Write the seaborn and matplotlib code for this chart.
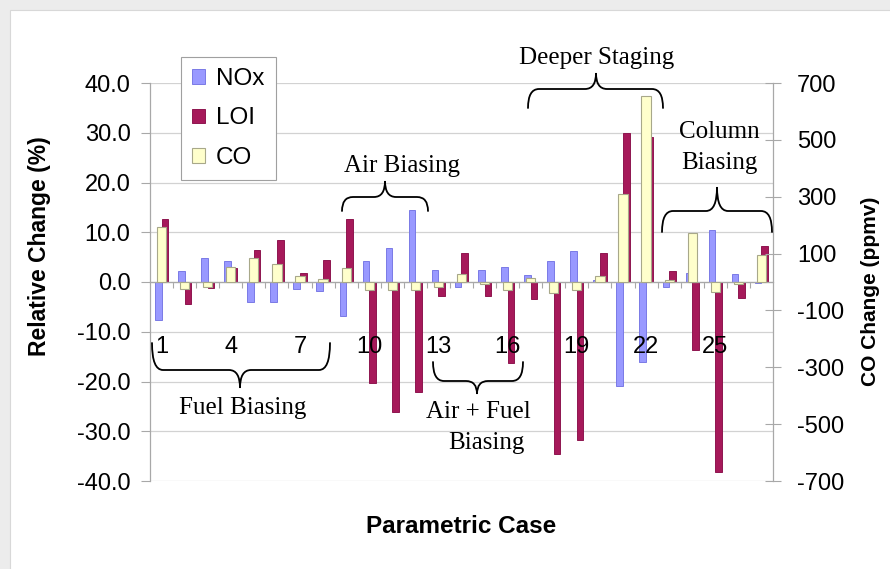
import matplotlib
matplotlib.use("Agg")
import numpy as np
import pandas as pd
import matplotlib.pyplot as plt
import seaborn as sns
from matplotlib.path import Path
from matplotlib.patches import PathPatch, Patch, Rectangle
from matplotlib.transforms import Affine2D

# ---------------- data ----------------
cases = list(range(1, 28))
case_labels = [str(c) for c in cases]
nox = [-7.6, 2.2, 4.9, 4.2, -4.1, -4.1, -1.5, -1.8, -6.8, 4.2, 6.9, 14.4, 2.5, -1.1,
       2.5, 3.1, 1.5, 4.2, 6.2, 0.5, -20.9, -16.0, -1.1, 1.9, 10.5, 1.7, -0.3]
loi = [12.7, -4.4, -1.2, 2.9, 6.5, 8.5, 1.9, 4.5, 12.7, -20.3, -26.1, -22.1, -2.8, 5.9,
       -2.8, -16.3, -3.4, -34.5, -31.8, 5.9, 29.9, 29.1, 2.2, -13.7, -38.1, -3.3, 7.2]
co_ppmv = [195, -26, -18, 54, 86, 62, 21, 9, 51, -29, -29, -29, -17, 29,
           -8, -29, 14, -37, -29, 21, 311, 654, 7, 171, -34, -6, 95]
shown_case_labels = ["1", "4", "7", "10", "13", "16", "19", "22", "25"]
left_ticks = [-40, -30, -20, -10, 0, 10, 20, 30, 40]
right_ticks = [-700, -500, -300, -100, 100, 300, 500, 700]

NOX_C, NOX_E = "#9999ff", "#7a7ae6"
LOI_C, LOI_E = "#a6195a", "#8e1650"
CO_C, CO_E = "#ffffcc", "#a8a88a"
GRID = "#d2d2d2"
AXC = "#a8a8a8"

SANS = ["Liberation Sans", "DejaVu Sans"]
SERIF = ["Liberation Serif", "DejaVu Serif"]
plt.rcParams["font.family"] = SANS

W, H = 890, 569
fig = plt.figure(figsize=(W / 100, H / 100), dpi=100)
PX = Affine2D().scale(1 / W, -1 / H).translate(0, 1) + fig.transFigure

fig.patch.set_facecolor("#ececec")
fig.add_artist(Rectangle((10, 10), 900, 600, transform=PX, facecolor="white",
                         edgecolor="#d8d8d8", lw=0.8, zorder=-10))

ax = fig.add_axes([150 / W, 1 - 481 / H, 623 / W, 398 / H])
ax.patch.set_alpha(0)
ax2 = ax.twinx()

df = pd.DataFrame({
    "case": case_labels * 2,
    "series": ["NOx"] * len(cases) + ["LOI"] * len(cases),
    "value": nox + loi,
})
sns.barplot(data=df, x="case", y="value", hue="series", order=case_labels,
            hue_order=["NOx", "LOI"], palette={"NOx": NOX_C, "LOI": LOI_C},
            width=0.572, gap=0, errorbar=None, saturation=1, legend=False,
            linewidth=0.7, ax=ax)
for cont, ec in zip(ax.containers, [NOX_E, LOI_E]):
    for b in cont:
        b.set_edgecolor(ec)

sns.barplot(x=case_labels, y=co_ppmv, order=case_labels, color=CO_C, width=0.4,
            errorbar=None, saturation=1, edgecolor=CO_E, linewidth=0.8, ax=ax2)

# axes setup
ax.set_xlim(-0.5, len(cases) - 0.5)
ax.set_ylim(-40, 40)
ax2.set_ylim(-700, 700)
ax.set_yticks(left_ticks)
ax.set_yticklabels([f"{v:.1f}" for v in left_ticks])
ax2.set_yticks(right_ticks)
ax2.set_yticklabels([str(v) for v in right_ticks])
ax.set_xlabel("")
ax.set_ylabel("")
ax2.set_ylabel("")
ax2.set_xlabel("")
ax2.xaxis.set_visible(False)

ax.set_xticks(np.arange(0.5, len(cases) - 1, 1))
ax.set_xticklabels([])
ax.tick_params(axis="x", length=4.5, width=0.8, color=AXC, direction="out")
ax.tick_params(axis="y", length=6.5, width=0.8, color=AXC, direction="out",
               pad=7.5, labelsize=17)
ax2.tick_params(axis="y", length=11.5, width=0.8, color=AXC, direction="inout",
                pad=11.5, labelsize=17)

ax.spines["bottom"].set_position(("data", 0))
for s in ["top", "right"]:
    ax.spines[s].set_visible(False)
for s in ["top", "left", "bottom"]:
    ax2.spines[s].set_visible(False)
ax.spines["left"].set_color(AXC)
ax.spines["bottom"].set_color(AXC)
ax2.spines["right"].set_color(AXC)
for s in ["left", "bottom"]:
    ax.spines[s].set_linewidth(0.9)
ax2.spines["right"].set_linewidth(0.9)

ax.yaxis.grid(True, color=GRID, lw=0.9)
ax.xaxis.grid(False)
ax.set_axisbelow(True)

# category labels inside the plot
for lab in shown_case_labels:
    i = case_labels.index(lab)
    ax.text(i, -13.1, lab, ha="center", va="center", fontsize=17)

# axis titles
fig.text(40, 246, "Relative Change (%)", transform=PX, rotation=90, ha="center",
         va="center", fontsize=16.5, fontweight="bold")
fig.text(870, 291, "CO Change (ppmv)", transform=PX, rotation=90, ha="center",
         va="center", fontsize=15, fontweight="bold")
fig.text(461, 527, "Parametric Case", transform=PX, ha="center", va="center",
         fontsize=17.5, fontweight="bold")

# legend
handles = [Patch(facecolor=NOX_C, edgecolor=NOX_E, lw=0.7),
           Patch(facecolor=LOI_C, edgecolor=LOI_E, lw=0.7),
           Patch(facecolor=CO_C, edgecolor=CO_E, lw=0.8)]
leg = fig.legend(handles, ["NOx", "LOI", "CO"], loc="upper left",
                 bbox_to_anchor=(181 / W, 1 - 57 / H), bbox_transform=fig.transFigure,
                 fontsize=17.5, frameon=True, fancybox=False, framealpha=1,
                 edgecolor="#a0a0a0", handlelength=0.55, handleheight=0.55,
                 handletextpad=0.45, labelspacing=0.72, borderpad=0.45,
                 borderaxespad=0)
leg.get_frame().set_linewidth(0.8)


# braces
def brace(x0, x1, y_tip, y_h, y_c, xm=None, r=11, rc=11):
    if xm is None:
        xm = (x0 + x1) / 2
    verts = [(x0, y_tip), (x0, y_h), (x0 + r, y_h),
             (xm - rc, y_h), (xm, y_h), (xm, y_c),
             (xm, y_h), (xm + rc, y_h),
             (x1 - r, y_h), (x1, y_h), (x1, y_tip)]
    codes = [Path.MOVETO, Path.CURVE3, Path.CURVE3,
             Path.LINETO, Path.CURVE3, Path.CURVE3,
             Path.CURVE3, Path.CURVE3,
             Path.LINETO, Path.CURVE3, Path.CURVE3]
    fig.add_artist(PathPatch(Path(verts, codes), transform=PX, fill=False,
                             edgecolor="black", lw=1.3, capstyle="round"))


brace(152, 330, 343, 370, 388, xm=240)        # Fuel Biasing
brace(433, 523, 362, 381, 394, xm=477)        # Air + Fuel
brace(342, 428, 211, 197, 181, xm=385)        # Air Biasing
brace(528, 663, 108, 89, 73, xm=596)          # Deeper Staging
brace(662, 772, 232, 211, 187, xm=717)        # Column Biasing

ann = dict(transform=PX, ha="center", va="center", fontsize=18, family=SERIF)
fig.text(597, 58, "Deeper Staging", **ann)
fig.text(402, 166, "Air Biasing", **ann)
fig.text(719, 132, "Column", **ann)
fig.text(719, 163, "Biasing", **ann)
fig.text(243, 408, "Fuel Biasing", **ann)
fig.text(478, 412, "Air + Fuel", **ann)
fig.text(486, 443, "Biasing", **ann)

fig.savefig("out.png", dpi=100, facecolor=fig.get_facecolor())
